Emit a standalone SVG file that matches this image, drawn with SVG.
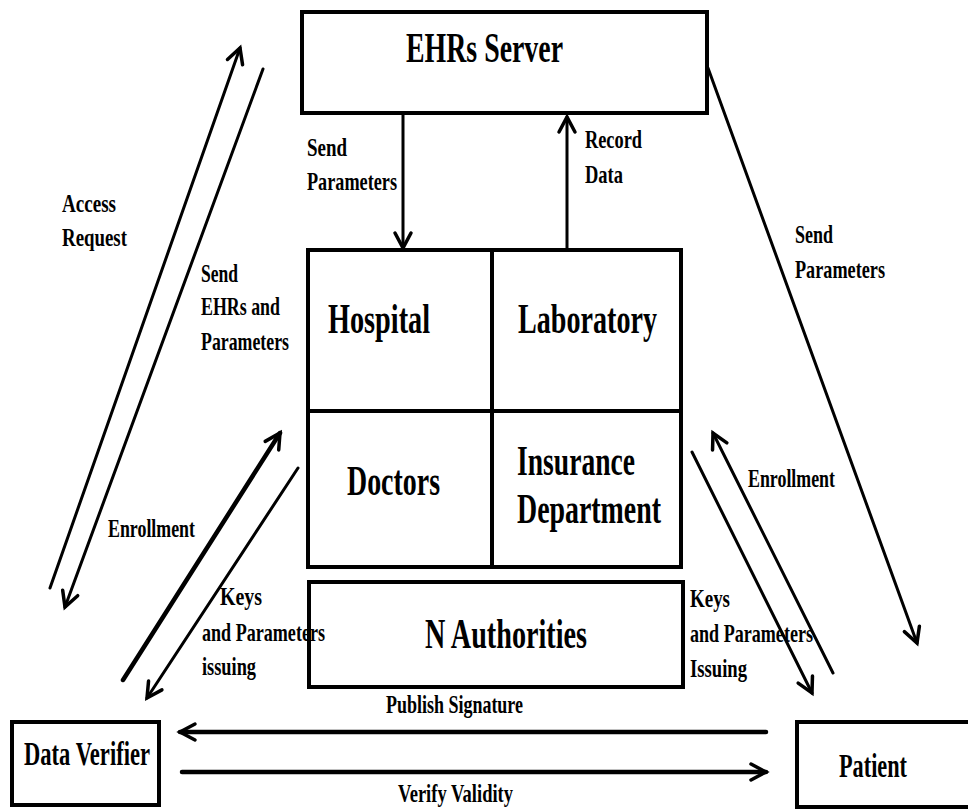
<svg xmlns="http://www.w3.org/2000/svg" width="968" height="810" viewBox="0 0 968 810">
<style>
.box{fill:none;stroke:#000;stroke-width:4}
.big{font-family:"Liberation Serif","Times New Roman",serif;font-weight:bold;font-size:42px;fill:#000}
.mid{font-family:"Liberation Serif","Times New Roman",serif;font-weight:bold;font-size:33px;fill:#000}
.lbl{font-family:"Liberation Serif","Times New Roman",serif;font-weight:bold;font-size:26px;fill:#000}
.ln{fill:none;stroke:#000;stroke-width:3;stroke-linecap:round}
.thick{stroke-width:4.5}
</style>
<defs>
<marker id="ah" markerUnits="userSpaceOnUse" orient="auto" overflow="visible" refX="0" refY="0" markerWidth="20" markerHeight="20">
<path d="M-15,-8 L0,0 L-15,8" fill="none" stroke="#000" stroke-width="3.5" stroke-linecap="round" stroke-linejoin="miter"/>
</marker>
</defs>
<rect x="0" y="0" width="968" height="810" fill="#fff"/>

<g id="ehrs-server">
<rect class="box" x="302" y="12" width="405" height="101"/>
<text class="big" x="406" y="62" textLength="157" lengthAdjust="spacingAndGlyphs">EHRs Server</text>
</g>

<g id="hospital">
<rect class="box" x="308" y="250" width="184" height="161"/>
<text class="big" x="328" y="333" textLength="102" lengthAdjust="spacingAndGlyphs">Hospital</text>
</g>
<g id="laboratory">
<rect class="box" x="492" y="250" width="189" height="161"/>
<text class="big" x="518" y="333" textLength="139" lengthAdjust="spacingAndGlyphs">Laboratory</text>
</g>
<g id="doctors">
<rect class="box" x="308" y="411" width="184" height="156"/>
<text class="big" x="347" y="495" textLength="93" lengthAdjust="spacingAndGlyphs">Doctors</text>
</g>
<g id="insurance">
<rect class="box" x="492" y="411" width="189" height="156"/>
<text class="big" x="517" y="475" textLength="118" lengthAdjust="spacingAndGlyphs">Insurance</text>
<text class="big" x="517" y="523" textLength="144" lengthAdjust="spacingAndGlyphs">Department</text>
</g>

<g id="n-authorities">
<rect class="box" x="309" y="582" width="374" height="105"/>
<text class="big" x="425" y="648" textLength="162" lengthAdjust="spacingAndGlyphs">N Authorities</text>
</g>

<g id="data-verifier">
<rect class="box" x="12" y="722" width="147" height="83"/>
<text class="mid" x="24" y="765" textLength="126" lengthAdjust="spacingAndGlyphs">Data Verifier</text>
</g>

<g id="patient">
<rect class="box" x="797" y="722" width="175" height="85"/>
<text class="mid" x="839" y="777" textLength="68" lengthAdjust="spacingAndGlyphs">Patient</text>
</g>

<g id="connectors">
<line class="ln" x1="403" y1="114" x2="403" y2="248" marker-end="url(#ah)"/>
<line class="ln" x1="567" y1="248" x2="567" y2="117" marker-end="url(#ah)"/>
<line class="ln" x1="50" y1="588" x2="240" y2="48" marker-end="url(#ah)"/>
<line class="ln" x1="263" y1="69" x2="65" y2="607" marker-end="url(#ah)"/>
<line class="ln thick" x1="123" y1="680" x2="280" y2="433" marker-end="url(#ah)"/>
<line class="ln" x1="298" y1="468" x2="147" y2="698" marker-end="url(#ah)"/>
<line class="ln" x1="692" y1="452" x2="812" y2="693" marker-end="url(#ah)"/>
<line class="ln" x1="833" y1="673" x2="713" y2="433" marker-end="url(#ah)"/>
<line class="ln" x1="708" y1="68" x2="917" y2="643" marker-end="url(#ah)"/>
<line class="ln thick" x1="766" y1="732" x2="180" y2="732" marker-end="url(#ah)"/>
<line class="ln thick" x1="182" y1="772" x2="766" y2="772" marker-end="url(#ah)"/>
</g>

<g id="labels">
<text class="lbl" x="307" y="156" textLength="40" lengthAdjust="spacingAndGlyphs">Send</text>
<text class="lbl" x="307" y="190" textLength="90" lengthAdjust="spacingAndGlyphs">Parameters</text>
<text class="lbl" x="585" y="148" textLength="57" lengthAdjust="spacingAndGlyphs">Record</text>
<text class="lbl" x="585" y="183" textLength="38" lengthAdjust="spacingAndGlyphs">Data</text>
<text class="lbl" x="62" y="212" textLength="54" lengthAdjust="spacingAndGlyphs">Access</text>
<text class="lbl" x="62" y="246" textLength="65" lengthAdjust="spacingAndGlyphs">Request</text>
<text class="lbl" x="201" y="282" textLength="37" lengthAdjust="spacingAndGlyphs">Send</text>
<text class="lbl" x="201" y="315" textLength="79" lengthAdjust="spacingAndGlyphs">EHRs and</text>
<text class="lbl" x="201" y="350" textLength="88" lengthAdjust="spacingAndGlyphs">Parameters</text>
<text class="lbl" x="795" y="243" textLength="38" lengthAdjust="spacingAndGlyphs">Send</text>
<text class="lbl" x="795" y="278" textLength="90" lengthAdjust="spacingAndGlyphs">Parameters</text>
<text class="lbl" x="108" y="537" textLength="87" lengthAdjust="spacingAndGlyphs">Enrollment</text>
<text class="lbl" x="220" y="605" textLength="42" lengthAdjust="spacingAndGlyphs">Keys</text>
<text class="lbl" x="202" y="641" textLength="123" lengthAdjust="spacingAndGlyphs">and Parameters</text>
<text class="lbl" x="202" y="675" textLength="54" lengthAdjust="spacingAndGlyphs">issuing</text>
<text class="lbl" x="690" y="607" textLength="40" lengthAdjust="spacingAndGlyphs">Keys</text>
<text class="lbl" x="690" y="642" textLength="123" lengthAdjust="spacingAndGlyphs">and Parameters</text>
<text class="lbl" x="690" y="677" textLength="57" lengthAdjust="spacingAndGlyphs">Issuing</text>
<text class="lbl" x="748" y="487" textLength="87" lengthAdjust="spacingAndGlyphs">Enrollment</text>
<text class="lbl" x="386" y="713" font-size="24" textLength="137" lengthAdjust="spacingAndGlyphs">Publish Signature</text>
<text class="lbl" x="398" y="802" font-size="23" textLength="115" lengthAdjust="spacingAndGlyphs">Verify Validity</text>
</g>
</svg>
